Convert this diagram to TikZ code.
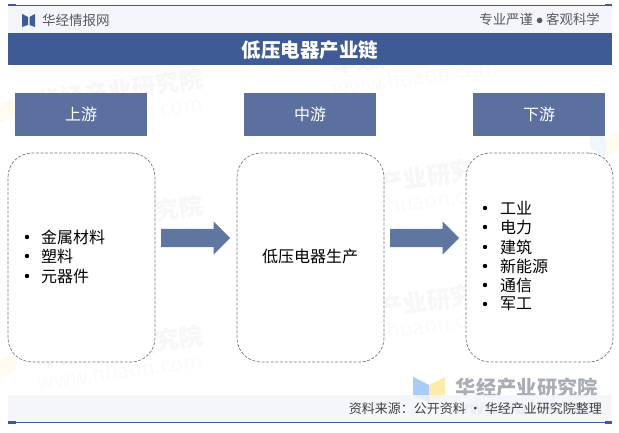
\documentclass[tikz,border=0pt]{standalone}
\usepackage{fontspec}
\setmainfont{Noto Sans CJK SC}
\usepackage{xcolor}
\usetikzlibrary{shapes.arrows}
\definecolor{navy}{HTML}{3F5B96}
\definecolor{boxblue}{HTML}{5C709F}
\definecolor{dashgray}{HTML}{6F7A90}
\definecolor{arrowblue}{HTML}{5F77A0}
\definecolor{bandgray}{HTML}{F3F5FA}
\definecolor{markgray}{HTML}{A9ADB5}
\definecolor{logoblue}{HTML}{A9CBF7}
\definecolor{logoyellow}{HTML}{FDEBAE}
\tikzset{
	headbox/.style={fill=boxblue,text=white,minimum width=132pt,minimum height=43pt,inner sep=0pt,font=\fontsize{16}{16}\selectfont},
	listbox/.style={draw=dashgray,fill=white,line width=0.7pt,dash pattern=on 3pt off 1.6pt,rounded corners=24pt,minimum width=147pt,minimum height=209pt,inner sep=0pt},
	bigarrow/.style={single arrow,fill=arrowblue,anchor=tail,inner xsep=0pt,inner ysep=9pt,minimum height=69pt,single arrow head extend=7.5pt,single arrow tip angle=90},
	itemtext/.style={anchor=west,inner sep=0pt,font=\fontsize{16}{16}\selectfont},
	dotmark/.style={circle,fill=black,minimum size=4.4pt,inner sep=0pt},
	faintmark/.style={text=black!3,rotate=8,inner sep=0pt,font=\bfseries\fontsize{24}{24}\selectfont},
	faintweb/.style={text=black!2,rotate=8,inner sep=0pt,font=\fontsize{21}{21}\selectfont},
}
\begin{document}
\begin{tikzpicture}[x=1pt,y=-1pt]
	\useasboundingbox (0,0) rectangle (619,433);
	\fill[white] (0,0) rectangle (619,433);
	% watermarks
	\foreach \wx/\wy/\wname in {120/90/marka,120/217/markb,120/347/markc,415/53/markd,415/178/marke,415/303/markf}{
		\node[faintmark] (\wname) at (\wx,\wy) {华经产业研究院};
		\node[faintweb] (\wname web) at (\wx,\wy+24) {www.huaon.com};
	}
	\foreach \lx/\ly in {-16/97,-16/352,590/130}{
		\fill[logoblue!18,shift={(\lx,\ly)}] (0,0)--(16,8)--(16,26)--(0,18)--cycle;
		\fill[logoyellow!18,shift={(\lx,\ly)}] (32,0)--(16,8)--(16,26)--(32,18)--cycle;
	}
	\fill[logoblue] (413,377)--(429,385)--(429,403)--(413,395)--cycle;
	\fill[logoyellow] (445,377)--(429,385)--(429,403)--(445,395)--cycle;
	\node[inner sep=0pt,text=markgray,font=\bfseries\fontsize{20.3}{20.3}\selectfont] (bigmark) at (527,388) {华经产业研究院};
	\node[inner sep=0pt,text=markgray!70,font=\bfseries\fontsize{17}{17}\selectfont] (bigweb) at (527,408) {www.huaon.com};
	% top and bottom bands
	\fill[bandgray] (8,5) rectangle (612,33);
	\fill[bandgray,opacity=0.85] (8,395) rectangle (612,422);
	\draw[navy,line width=0.8pt] (8,5.5)--(612,5.5);
	\draw[navy,line width=0.8pt] (8,422)--(612,422);
	\fill[navy] (8,4) rectangle (16,6.5);
	\fill[navy] (605,4) rectangle (612,6.5);
	\fill[navy] (605,421) rectangle (612,423.5);
	\fill[navy] (8,421) rectangle (16,423.5);
	\fill[navy] (22,14)--(28,17)--(28,25)--(22,27)--cycle;
	\fill[navy] (35,14)--(29.5,17)--(29.5,25)--(35,27)--cycle;
	\node[anchor=west,inner sep=0pt,text=black!65,font=\fontsize{13.5}{13.5}\selectfont] (sitename) at (42,20) {华经情报网};
	\node[anchor=east,inner sep=0pt,text=black!65,font=\fontsize{13.4}{13.4}\selectfont] (motto) at (600,19) {专业严谨 $\bullet$ 客观科学};
	\node[anchor=east,inner sep=0pt,text=black!75,font=\fontsize{13}{13}\selectfont] (source) at (602,409) {资料来源：公开资料 · 华经产业研究院整理};
	% title
	\fill[navy] (8,33) rectangle (612,65);
	\node[text=white,inner sep=0pt,font=\bfseries\fontsize{19.5}{19.5}\selectfont] (title) at (310,50.5) {低压电器产业链};
	% three columns
	\node[headbox] (up) at (81,114.5) {上游};
	\node[headbox] (mid) at (310,114.5) {中游};
	\node[headbox] (down) at (539,114.5) {下游};
	\node[listbox] (upbox) at (81.5,257.5) {};
	\node[listbox] (midbox) at (310.5,257.5) {};
	\node[listbox] (downbox) at (539.5,257.5) {};
	\node[bigarrow] (arrowa) at (161,238) {};
	\node[bigarrow] (arrowb) at (390,238) {};
	% lists
	\foreach \ty/\tname/\ttext in {237/ua/金属材料,256/ub/塑料,276/uc/元器件}{
		\node[dotmark] (dot\tname) at (27,\ty) {};
		\node[itemtext] (\tname) at (41,\ty) {\ttext};
	}
	\node[inner sep=0pt,font=\fontsize{16}{16}\selectfont] (midtext) at (310,256) {低压电器生产};
	\foreach \ty/\tname/\ttext in {208/da/工业,227/db/电力,247/dc/建筑,266/dd/新能源,285/de/通信,304/df/军工}{
		\node[dotmark] (dot\tname) at (485,\ty) {};
		\node[itemtext] (\tname) at (500,\ty) {\ttext};
	}
\end{tikzpicture}
\end{document}
